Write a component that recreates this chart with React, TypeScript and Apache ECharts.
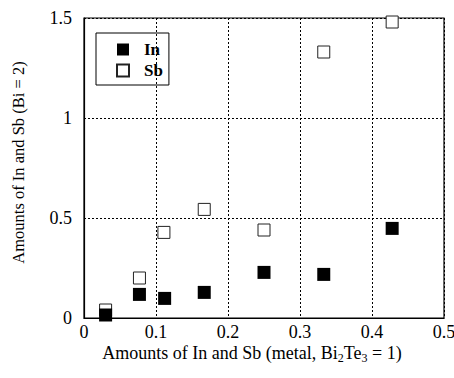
import React, { useEffect, useRef } from "react";
import * as echarts from "echarts";

const xIn = [0.03, 0.077, 0.112, 0.167, 0.25, 0.333, 0.428];
const yIn = [0.015, 0.118, 0.098, 0.128, 0.228, 0.218, 0.448];
const xSb = [0.03, 0.077, 0.111, 0.167, 0.25, 0.333, 0.428];
const ySb = [0.04, 0.2, 0.428, 0.543, 0.44, 1.33, 1.48];
const seriesNames = ["In", "Sb"];

const FONT = "'Liberation Serif', 'DejaVu Serif', serif";

export default function App() {
  const ref = useRef<HTMLDivElement>(null);
  useEffect(() => {
    const chart = echarts.init(ref.current!, null, { renderer: "svg" });
    const gridLine = { show: true, lineStyle: { color: "#000", type: [2, 2] as any, width: 1 } };
    chart.setOption({
      animation: false,
      backgroundColor: "#fff",
      textStyle: { fontFamily: FONT },
      grid: {
        left: 84, right: 10, top: 18, bottom: 60, show: true, borderColor: "#000", borderWidth: 1.2,
        containLabel: false, outerBoundsMode: "none",
      },
      legend: {
        left: 96,
        top: 33,
        orient: "vertical",
        borderColor: "#000",
        borderWidth: 1,
        borderRadius: 0,
        padding: [8, 6, 6, 20],
        itemGap: 4,
        itemWidth: 12,
        itemHeight: 12,
        data: seriesNames,
        itemStyle: { opacity: 1 },
        textStyle: { fontFamily: FONT, fontWeight: "bold", fontSize: 17, lineHeight: 16, color: "#000", padding: [0, 0, 0, 10] },
      },
      xAxis: {
        type: "value",
        min: 0,
        max: 0.5,
        interval: 0.1,
        axisLine: { show: true, lineStyle: { color: "#000", width: 1.2 } },
        axisTick: { show: false },
        splitLine: gridLine,
        axisLabel: { fontFamily: FONT, fontSize: 18, color: "#000", margin: 5 },
        name: "Amounts of In and Sb (metal, Bi{sub|2}Te{sub|3} = 1)",
        nameLocation: "middle",
        nameGap: 24,
        nameMoveOverlap: false,
        nameTruncate: { maxWidth: 1000 },
        nameTextStyle: {
          fontFamily: FONT,
          fontSize: 18,
          color: "#000",
          padding: [0, 24, 0, 0],
          rich: { sub: { fontFamily: FONT, fontSize: 12, color: "#000", verticalAlign: "bottom", padding: [10, 0, 0, 0] } },
        },
      },
      yAxis: {
        type: "value",
        min: 0,
        max: 1.5,
        interval: 0.5,
        axisLine: { show: true, lineStyle: { color: "#000", width: 1.2 } },
        axisTick: { show: false },
        splitLine: gridLine,
        axisLabel: { fontFamily: FONT, fontSize: 18, color: "#000", margin: 12 },
        name: "Amounts of In and Sb (Bi = 2)",
        nameLocation: "middle",
        nameGap: 57,
        nameMoveOverlap: false,
        nameRotate: 90,
        nameTruncate: { maxWidth: 1000 },
        nameTextStyle: { fontFamily: FONT, fontSize: 16.5, color: "#000", padding: [0, 0, 0, 11] },
      },
      series: [
        {
          name: seriesNames[0],
          type: "scatter",
          symbol: "rect",
          symbolSize: 13,
          itemStyle: { color: "#000", opacity: 1 },
          data: xIn.map((x, i) => [x, yIn[i]]),
          z: 3,
        },
        {
          name: seriesNames[1],
          type: "scatter",
          symbol: "rect",
          symbolSize: 12,
          itemStyle: { color: "#fff", borderColor: "#222", borderWidth: 1, opacity: 1 },
          data: xSb.map((x, i) => [x, ySb[i]]),
          z: 2,
        },
      ],
    });
    return () => chart.dispose();
  }, []);
  return <div ref={ref} style={{ width: 454, height: 378, position: "fixed", left: 0, top: 0 }} />;
}
